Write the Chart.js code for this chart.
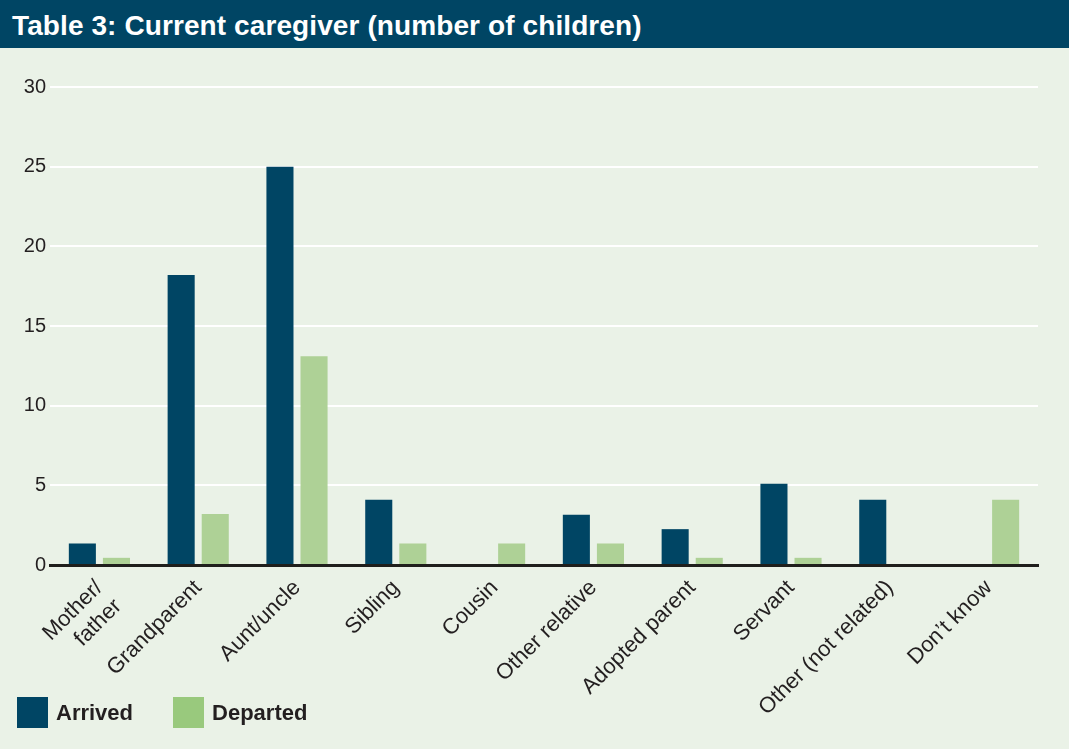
<!DOCTYPE html>
<html>
<head>
<meta charset="utf-8">
<script src="https://cdn.jsdelivr.net/npm/chart.js@4"></script>
<style>
  html, body { margin: 0; padding: 0; background: #eaf2e7; }
  body { width: 1069px; height: 749px; overflow: hidden; font-family: "Liberation Sans", Arial, sans-serif; }
  .title {
    height: 48px; background: #004564; color: #fff;
    font-weight: bold; font-size: 28px; line-height: 52px; padding-left: 12px;
    box-sizing: border-box; letter-spacing: 0.1px;
  }
  .wrap { position: relative; width: 1069px; height: 701px; }
  .legend { position: absolute; left: 17px; top: 697px; display: flex; align-items: center; }
  .legend .item { display: flex; align-items: center; margin-right: 40px; }
  .legend .box { width: 31px; height: 31px; margin-right: 8px; }
  .legend .txt { font-weight: bold; font-size: 22px; color: #231f20; }
</style>
</head>
<body>
<div class="title">Table 3: Current caregiver (number of children)</div>
<div class="wrap"><canvas id="chart"></canvas></div>
<div class="legend" id="legend"></div>
<script>
const categories = [
  ['Mother/', 'father'], 'Grandparent', 'Aunt/uncle', 'Sibling', 'Cousin',
  'Other relative', 'Adopted parent', 'Servant', 'Other (not related)', "Don\u2019t know"
];
const arrived = [1.35, 18.2, 25, 4.1, 0, 3.15, 2.25, 5.1, 4.1, 0];
const departed = [0.45, 3.2, 13.1, 1.35, 1.35, 1.35, 0.45, 0.45, 0, 4.1];
const yTicks = [0, 5, 10, 15, 20, 25, 30];

const DARK = '#004564';
const GREEN = '#aed196';
const FONT = "'Liberation Sans', Arial, sans-serif";

const ctx = document.getElementById('chart').getContext('2d');
const chart = new Chart(ctx, {
  type: 'bar',
  data: {
    labels: categories,
    datasets: [
      { label: 'Arrived', data: arrived, backgroundColor: DARK, borderWidth: 0 },
      { label: 'Departed', data: departed, backgroundColor: GREEN, borderWidth: 0 }
    ]
  },
  options: {
    responsive: true,
    maintainAspectRatio: false,
    animation: false,
    categoryPercentage: 0.69,
    barPercentage: 0.794,
    layout: { padding: { top: 39, left: 5, right: 31, bottom: 0 } },
    scales: {
      x: {
        grid: { display: false },
        border: { display: true, color: '#1f1f1c', width: 3 },
        ticks: {
          color: '#231f20',
          font: { family: FONT, size: 22 },
          minRotation: 45,
          maxRotation: 45,
          padding: 2,
          autoSkip: false
        },
        afterFit: (axis) => { axis.height = 184; }
      },
      y: {
        min: 0,
        max: 30,
        afterBuildTicks: (axis) => { axis.ticks = yTicks.map(v => ({ value: v })); },
        grid: { color: '#ffffff', lineWidth: 2, drawTicks: false },
        border: { display: false },
        ticks: {
          color: '#231f20',
          font: { family: FONT, size: 20 },
          padding: 4
        },
        afterFit: (axis) => { axis.width = 45; }
      }
    },
    plugins: {
      legend: { display: false },
      tooltip: { enabled: false }
    }
  }
});

// legend swatches (the legend swatch green is a touch stronger than the bar fill)
const legendColors = [DARK, '#99c97d'];
const legendEl = document.getElementById('legend');
chart.data.datasets.forEach((ds, i) => {
  const item = document.createElement('div');
  item.className = 'item';
  item.innerHTML = '<div class="box" style="background:' + legendColors[i] + '"></div><span class="txt">' + ds.label + '</span>';
  legendEl.appendChild(item);
});
</script>
</body>
</html>
